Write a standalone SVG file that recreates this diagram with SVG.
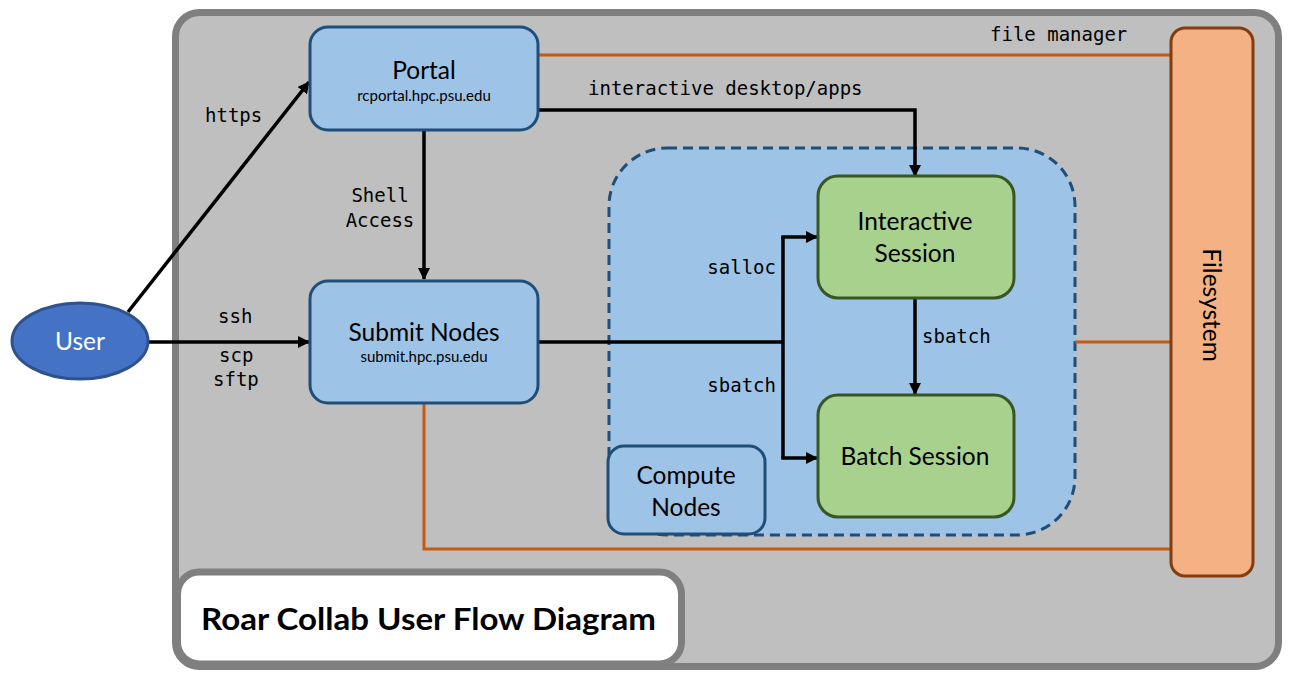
<svg xmlns="http://www.w3.org/2000/svg" width="1294" height="682" viewBox="0 0 1294 682">
<defs>
<marker id="ah" markerUnits="userSpaceOnUse" markerWidth="12" markerHeight="12" viewBox="0 0 12 12" refX="11" refY="6" orient="auto">
<path d="M0,0 L12,6 L0,12 Z" fill="#000"/>
</marker>
<style>
.sans{font-family:Lato,"Open Sans","Liberation Sans",sans-serif;fill:#000;text-anchor:middle}
.big{font-size:24.5px}
.small{font-size:15px}
.mono{font-family:"DejaVu Sans Mono","Liberation Mono",monospace;font-size:19px;fill:#000}
.blk{fill:none;stroke:#000;stroke-width:3.5}
.org{fill:none;stroke:#c55a11;stroke-width:3}
.blue{fill:#9dc3e6;stroke:#1f4e79;stroke-width:3}
.green{fill:#a9d18e;stroke:#375623;stroke-width:3}
</style>
</defs>
<rect id="container" x="175.5" y="12.5" width="1103" height="654" rx="24" fill="#bfbfbf" stroke="#7f7f7f" stroke-width="7"/>
<g id="compute-area">
<rect x="609" y="148" width="466" height="387" rx="58" fill="#9dc3e6" stroke="#1f4e79" stroke-width="3" stroke-dasharray="10,6"/>
</g>
<g id="connectors">
<path class="org" d="M538,55 H1170"/>
<path class="org" d="M1075,342 H1170"/>
<path class="org" d="M424,403 V549 H1170"/>
<path class="blk" d="M128,312 L309,82" marker-end="url(#ah)"/>
<path class="blk" d="M147,342 H309" marker-end="url(#ah)"/>
<path class="blk" d="M424,130 V279" marker-end="url(#ah)"/>
<path class="blk" d="M538,110 H915 V176" marker-end="url(#ah)"/>
<path class="blk" d="M538,342 H783"/>
<path class="blk" d="M783,237 V458"/>
<path class="blk" d="M781.25,237 H817" marker-end="url(#ah)"/>
<path class="blk" d="M781.25,458 H817" marker-end="url(#ah)"/>
<path class="blk" d="M915,298 V394" marker-end="url(#ah)"/>
<text class="mono" x="205" y="122">https</text>
<text class="mono" x="218" y="323">ssh</text>
<text class="mono" x="219" y="362">scp</text>
<text class="mono" x="213" y="386">sftp</text>
<text class="mono" x="380" y="202" text-anchor="middle">Shell</text>
<text class="mono" x="380" y="227" text-anchor="middle">Access</text>
<text class="mono" x="588" y="95">interactive desktop/apps</text>
<text class="mono" x="990" y="41">file manager</text>
<text class="mono" x="776" y="274" text-anchor="end">salloc</text>
<text class="mono" x="776" y="392" text-anchor="end">sbatch</text>
<text class="mono" x="922" y="343">sbatch</text>
</g>
<g id="user">
<ellipse cx="80" cy="341" rx="68" ry="38" fill="#4472c4" stroke="#2f528f" stroke-width="3"/>
<text class="sans big" x="80" y="350" style="fill:#fff">User</text>
</g>
<g id="portal">
<rect class="blue" x="310" y="27" width="228" height="103" rx="18"/>
<text class="sans big" x="424" y="79">Portal</text>
<text class="sans small" x="424" y="101">rcportal.hpc.psu.edu</text>
</g>
<g id="submit">
<rect class="blue" x="310" y="281" width="228" height="122" rx="18"/>
<text class="sans big" x="424" y="341">Submit Nodes</text>
<text class="sans small" x="424" y="362">submit.hpc.psu.edu</text>
</g>
<g id="interactive">
<rect class="green" x="818" y="176" width="196" height="122" rx="20"/>
<text class="sans big" x="915" y="230">Interactive</text>
<text class="sans big" x="915" y="262">Session</text>
</g>
<g id="batch">
<rect class="green" x="818" y="395" width="196" height="122" rx="20"/>
<text class="sans big" x="915" y="465">Batch Session</text>
</g>
<g id="compute">
<rect class="blue" x="608" y="446" width="157" height="88" rx="16"/>
<text class="sans big" x="686" y="484">Compute</text>
<text class="sans big" x="686" y="516">Nodes</text>
</g>
<g id="filesystem">
<rect x="1171" y="28" width="82" height="548" rx="14" fill="#f4b183" stroke="#843c0c" stroke-width="3"/>
<text class="sans big" x="0" y="0" transform="translate(1203,305) rotate(90)">Filesystem</text>
</g>
<g id="title">
<rect x="177.5" y="572" width="504" height="92" rx="22" fill="#fff" stroke="#7f7f7f" stroke-width="7"/>
<text x="201" y="630" style="font-family:Lato,'Open Sans','Liberation Sans',sans-serif;font-weight:bold;font-size:30px;fill:#000" textLength="455" lengthAdjust="spacingAndGlyphs">Roar Collab User Flow Diagram</text>
</g>
</svg>
